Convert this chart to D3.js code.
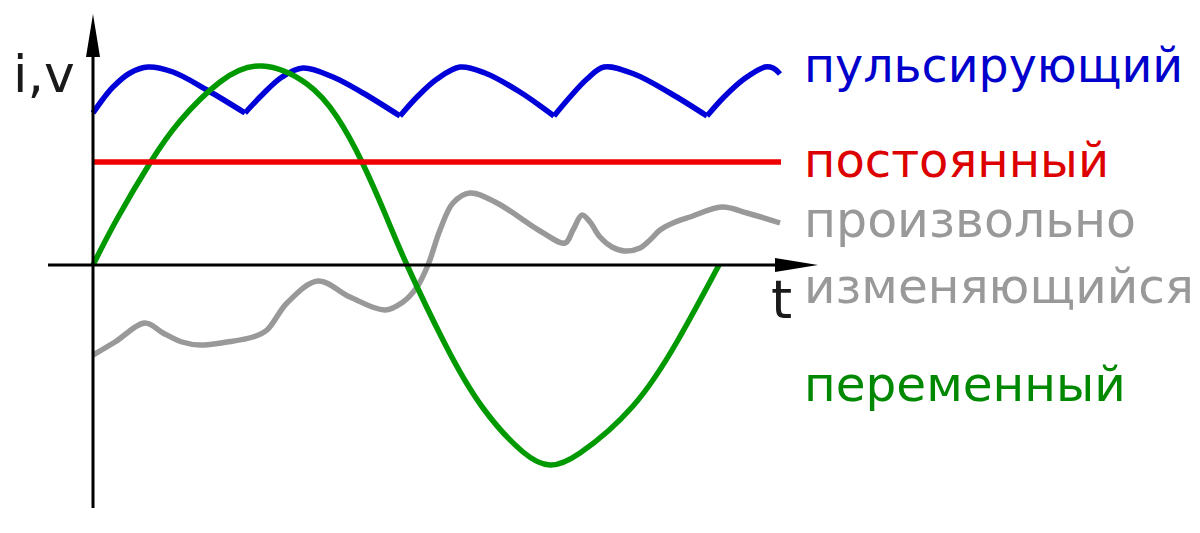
<!DOCTYPE html>
<html>
<head>
<meta charset="utf-8">
<script src="https://cdn.jsdelivr.net/npm/d3@7"></script>
<style>
  html, body { margin: 0; padding: 0; background: #ffffff; }
  svg { display: block; }
  text { font-family: "DejaVu Sans", sans-serif; }
</style>
</head>
<body>
<svg id="chart" width="1200" height="533"></svg>
<script>
// ---- data (t along the time axis, v along the i,v axis) ----
const seriesNames = ["пульсирующий", "постоянный", "произвольно изменяющийся", "переменный"];
const axisLabelY = "i,v";
const axisLabelX = "t";

// pulsating (пульсирующий)
const pulsT = [0, 10, 20, 37, 55, 80, 114, 152, 169, 189, 210, 240, 270, 307, 324, 344, 367, 392, 427, 461, 477, 494, 511, 541, 577, 614, 631, 651, 672, 680, 687];
const pulsV = [152, 166, 178, 192, 198, 193, 175, 152, 170, 188, 197, 188, 172, 149, 168, 186, 198, 192, 173, 149, 168, 186, 198, 191, 172, 149, 168, 186, 198, 197, 191];

// constant (постоянный)
const constT = [0, 688];
const constV = [103, 103];

// arbitrary varying (произвольно изменяющийся)
const arbT = [0, 22, 52, 70, 89, 107, 134, 160, 174, 194, 225, 257, 292, 310, 324, 335, 347, 360, 377, 404, 447, 472, 480, 489, 497, 507, 519, 532, 547, 557, 567, 580, 597, 629, 654, 687];
const arbV = [-90, -77, -58, -68, -77, -80, -77, -72, -65, -38, -16, -32, -45, -37, -22, 0, 35, 62, 72, 62, 34, 22, 35, 50, 43, 28, 18, 14, 17, 25, 35, 42, 48, 58, 52, 42];

// alternating (переменный)
const altT = [0, 24, 57, 87, 127, 169, 214, 244, 269, 293, 314, 352, 390, 430, 457, 487, 540, 585, 626];
const altV = [0, 46, 102, 144, 183, 199, 181, 148, 103, 49, 0, -79, -143, -187, -200, -188, -141, -75, 0];

// ---- drawing ----
const svg = d3.select("#chart");
const x = d3.scaleLinear().domain([0, 725]).range([93, 818]);
const y = d3.scaleLinear().domain([-243, 250]).range([508, 15]);

const zip = (ts, vs) => ts.map((t, i) => ({ t, v: vs[i] }));
const mkLine = curve => d3.line().x(d => x(d.t)).y(d => y(d.v)).curve(curve);

const colors = { puls: "#0000d8", cnst: "#ee0000", arb: "#999999", alt: "#009900" };
const SW = 5.5;

function drawCurve(parent, pts, color, curve) {
  parent.append("path")
    .attr("d", mkLine(curve)(pts))
    .attr("fill", "none")
    .attr("stroke", color)
    .attr("stroke-width", SW)
    .attr("stroke-linejoin", "round")
    .attr("stroke-linecap", "butt");
}

// arbitrary (bottom layer)
drawCurve(svg, zip(arbT, arbV), colors.arb, d3.curveCatmullRom.alpha(0.5));

// pulsating: split into segments at the sharp valleys
const pulsPts = zip(pulsT, pulsV);
const cuts = [0];
for (let i = 1; i < pulsPts.length - 1; i++) {
  if (pulsPts[i].v < pulsPts[i - 1].v && pulsPts[i].v < pulsPts[i + 1].v) cuts.push(i);
}
cuts.push(pulsPts.length - 1);
const pulsGroup = svg.append("g");
for (let k = 0; k < cuts.length - 1; k++) {
  drawCurve(pulsGroup, pulsPts.slice(cuts[k], cuts[k + 1] + 1), colors.puls, d3.curveCatmullRom.alpha(0.5));
}

// alternating
drawCurve(svg, zip(altT, altV), colors.alt, d3.curveNatural);

// constant
drawCurve(svg, zip(constT, constV), colors.cnst, d3.curveLinear);

// axes
const axG = svg.append("g");
axG.append("line")
  .attr("x1", x(0)).attr("x2", x(0))
  .attr("y1", y(-243)).attr("y2", y(215))
  .attr("stroke", "#000").attr("stroke-width", 3);
axG.append("path")
  .attr("d", `M${x(0)},${y(251)} L${x(0) - 7},${y(208)} L${x(0) + 7},${y(208)} Z`)
  .attr("fill", "#000");
axG.append("line")
  .attr("x1", x(-45)).attr("x2", x(690))
  .attr("y1", y(0)).attr("y2", y(0))
  .attr("stroke", "#000").attr("stroke-width", 3);
axG.append("path")
  .attr("d", `M${x(725)},${y(0)} L${x(682)},${y(0) - 7} L${x(682)},${y(0) + 7} Z`)
  .attr("fill", "#000");

// axis labels
svg.append("text").attr("x", 13).attr("y", 92)
  .attr("font-size", 52).attr("fill", "#1a1a1a").text(axisLabelY);
svg.append("text").attr("x", 771).attr("y", 318)
  .attr("font-size", 54).attr("fill", "#1a1a1a").text(axisLabelX);

// series labels
const lx = 804;
const words2 = seriesNames[2].split(" ");
const lab = [
  { txt: seriesNames[0], y: 82, c: "#0000cc", fs: 47.5 },
  { txt: seriesNames[1], y: 177, c: "#dd0000", fs: 48 },
  { txt: words2[0], y: 237, c: "#999999", fs: 49 },
  { txt: words2[1], y: 303, c: "#999999", fs: 48.5 },
  { txt: seriesNames[3], y: 401, c: "#008800", fs: 48.5 }
];
svg.selectAll("text.lab").data(lab).enter().append("text")
  .attr("class", "lab")
  .attr("x", lx).attr("y", d => d.y)
  .attr("font-size", d => d.fs)
  .attr("fill", d => d.c)
  .text(d => d.txt);
</script>
</body>
</html>
